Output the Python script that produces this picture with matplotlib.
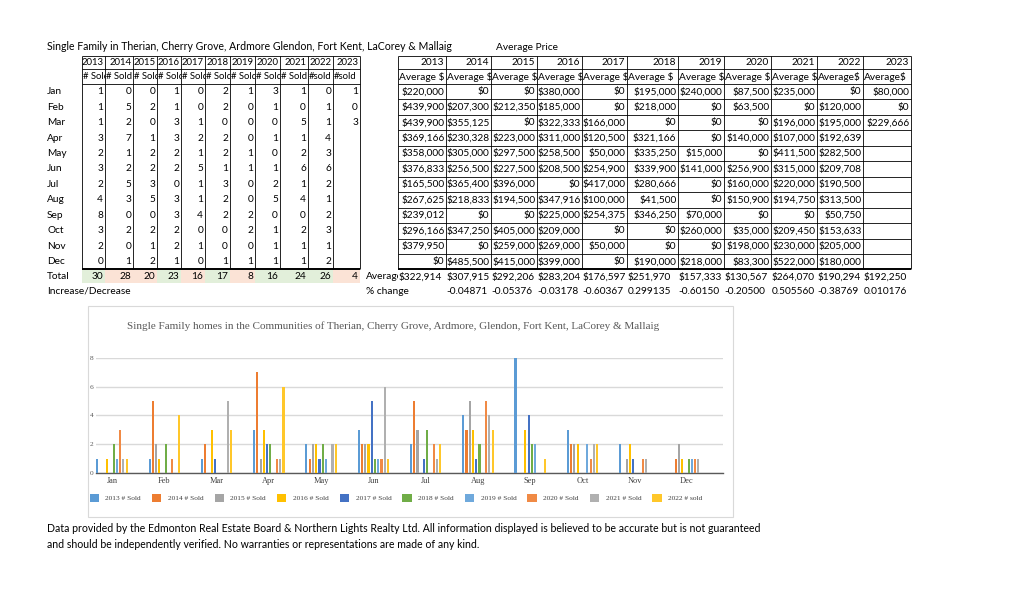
import matplotlib
matplotlib.use("Agg")
import matplotlib.pyplot as plt
from matplotlib.patches import Rectangle
import numpy as np

W, H = 1016, 602

months = ['Jan', 'Feb', 'Mar', 'Apr', 'May', 'Jun', 'Jul', 'Aug', 'Sep', 'Oct', 'Nov', 'Dec']
years = ['2013', '2014', '2015', '2016', '2017', '2018', '2019', '2020', '2021', '2022', '2023']
sold_heads = ['# Sold'] * 9 + ['#sold', '#sold']
price_heads = ['Average $'] * 9 + ['Average$', 'Average$']

# units sold, one row per month, 2013..2023
sold = [
    [1, 0, 0, 1, 0, 2, 1, 3, 1, 0, 1],
    [1, 5, 2, 1, 0, 2, 0, 1, 0, 1, 0],
    [1, 2, 0, 3, 1, 0, 0, 0, 5, 1, 3],
    [3, 7, 1, 3, 2, 2, 0, 1, 1, 4, None],
    [2, 1, 2, 2, 1, 2, 1, 0, 2, 3, None],
    [3, 2, 2, 2, 5, 1, 1, 1, 6, 6, None],
    [2, 5, 3, 0, 1, 3, 0, 2, 1, 2, None],
    [4, 3, 5, 3, 1, 2, 0, 5, 4, 1, None],
    [8, 0, 0, 3, 4, 2, 2, 0, 0, 2, None],
    [3, 2, 2, 2, 0, 0, 2, 1, 2, 3, None],
    [2, 0, 1, 2, 1, 0, 0, 1, 1, 1, None],
    [0, 1, 2, 1, 0, 1, 1, 1, 1, 2, None],
]
totals = [30, 28, 20, 23, 16, 17, 8, 16, 24, 26, 4]
total_up = [True, False, False, True, False, True, False, True, True, True, False]

# average price, one row per month, 2013..2023
prices = [
    ['$220,000', '$0', '$0', '$380,000', '$0', '$195,000', '$240,000', '$87,500', '$235,000', '$0', '$80,000'],
    ['$439,900', '$207,300', '$212,350', '$185,000', '$0', '$218,000', '$0', '$63,500', '$0', '$120,000', '$0'],
    ['$439,900', '$355,125', '$0', '$322,333', '$166,000', '$0', '$0', '$0', '$196,000', '$195,000', '$229,666'],
    ['$369,166', '$230,328', '$223,000', '$311,000', '$120,500', '$321,166', '$0', '$140,000', '$107,000', '$192,639', ''],
    ['$358,000', '$305,000', '$297,500', '$258,500', '$50,000', '$335,250', '$15,000', '$0', '$411,500', '$282,500', ''],
    ['$376,833', '$256,500', '$227,500', '$208,500', '$254,900', '$339,900', '$141,000', '$256,900', '$315,000', '$209,708', ''],
    ['$165,500', '$365,400', '$396,000', '$0', '$417,000', '$280,666', '$0', '$160,000', '$220,000', '$190,500', ''],
    ['$267,625', '$218,833', '$194,500', '$347,916', '$100,000', '$41,500', '$0', '$150,900', '$194,750', '$313,500', ''],
    ['$239,012', '$0', '$0', '$225,000', '$254,375', '$346,250', '$70,000', '$0', '$0', '$50,750', ''],
    ['$296,166', '$347,250', '$405,000', '$209,000', '$0', '$0', '$260,000', '$35,000', '$209,450', '$153,633', ''],
    ['$379,950', '$0', '$259,000', '$269,000', '$50,000', '$0', '$0', '$198,000', '$230,000', '$205,000', ''],
    ['$0', '$485,500', '$415,000', '$399,000', '$0', '$190,000', '$218,000', '$83,300', '$522,000', '$180,000', ''],
]
avg_price = ['$322,914', '$307,915', '$292,206', '$283,204', '$176,597', '$251,970',
             '$157,333', '$130,567', '$264,070', '$190,294', '$192,250']
pct_change = ['', '-0.04871', '-0.05376', '-0.03178', '-0.60367', '0.299135',
              '-0.60150', '-0.20500', '0.505560', '-0.38769', '0.010176']

# series shown in the chart (2013..2022)
chart_labels = ['2013 # Sold', '2014 # Sold', '2015 # Sold', '2016 # Sold', '2017 # Sold',
                '2018 # Sold', '2019 # Sold', '2020 # Sold', '2021 # Sold', '2022 # sold']
chart_sold = [
    [1, 1, 1, 3, 2, 3, 2, 4, 8, 3, 2, 0],
    [0, 5, 2, 7, 1, 2, 5, 3, 0, 2, 0, 1],
    [0, 2, 0, 1, 2, 2, 3, 5, 0, 2, 1, 2],
    [1, 1, 3, 3, 2, 2, 0, 3, 3, 2, 2, 1],
    [0, 0, 1, 2, 1, 5, 1, 1, 4, 0, 1, 0],
    [2, 2, 0, 2, 2, 1, 3, 2, 2, 0, 0, 1],
    [1, 0, 0, 0, 1, 1, 0, 0, 2, 2, 0, 1],
    [3, 1, 0, 1, 0, 1, 2, 5, 0, 1, 1, 1],
    [1, 0, 5, 1, 2, 6, 1, 4, 0, 2, 1, 1],
    [1, 4, 3, 6, 2, 1, 2, 3, 1, 2, 0, 0],
]
chart_colors = ['#5B9BD5', '#ED7D31', '#A5A5A5', '#FFC000', '#4472C4',
                '#70AD47', '#6FA9DC', '#F08A45', '#B0B0B0', '#FFC72A']

TF = 'Lato'
SF = 'Liberation Serif'

fig = plt.figure(figsize=(W / 100, H / 100), dpi=100)
bg = fig.add_axes([0, 0, 1, 1])
bg.set_xlim(0, W)
bg.set_ylim(H, 0)
bg.axis('off')


def cell_text(x0, x1, y0, y1, s, ha='right', pad=2, size=7.3, **kw):
    x = x1 - pad if ha == 'right' else x0 + pad
    t = bg.text(x, (y0 + y1) / 2, s, ha=ha, va='center', fontsize=size,
                family=TF, clip_on=True, **kw)
    t.set_clip_path(Rectangle((x0, y0), x1 - x0, y1 - y0, transform=bg.transData))
    return t


# column borders of the two tables (pixels)
L = [82, 105, 133, 157, 181, 205, 230, 255, 280, 308, 333, 360]
R = [398, 446, 491, 537, 582, 627, 678, 724, 771, 817, 863, 911]
top, h1, h2 = 56, 69, 84
rh = 15.45
rows_y = [h2 + i * rh for i in range(13)]
bottom = rows_y[-1]

bg.text(47, 47, 'Single Family in Therian, Cherry Grove, Ardmore Glendon, Fort Kent, LaCorey & Mallaig',
        fontsize=7.6, family=TF, va='center')
bg.text(496, 47, 'Average Price', fontsize=7.3, family=TF, va='center')

# left table: units sold
for i in range(11):
    cell_text(L[i], L[i + 1], top, h1, years[i], pad=1, size=6.9)
    cell_text(L[i], L[i + 1], h1, h2, sold_heads[i], ha='left', pad=1, size=6.8)
for r, m in enumerate(months):
    bg.text(47, (rows_y[r] + rows_y[r + 1]) / 2, m, fontsize=7.3, family=TF, va='center')
    for i in range(11):
        v = sold[r][i]
        if v is not None:
            cell_text(L[i], L[i + 1], rows_y[r], rows_y[r + 1], str(v))
bg.vlines(L, top, bottom, color='k', lw=0.6)
bg.hlines([top, h1, h2], L[0], L[-1], color='k', lw=0.6)
bg.hlines(bottom, L[0], L[-1], color='k', lw=1.4)

# totals row
ty0, ty1 = bottom + 0.5, bottom + 14
for i in range(11):
    bg.add_patch(Rectangle((L[i], ty0), L[i + 1] - L[i], ty1 - ty0, lw=0,
                           color='#E2EFDA' if total_up[i] else '#FBE3D6'))
    cell_text(L[i], L[i + 1], ty0, ty1, str(totals[i]))
bg.text(47, (ty0 + ty1) / 2, 'Total', fontsize=7.3, family=TF, va='center')
bg.text(47, ty1 + 8, 'Increase/Decrease', fontsize=7.3, family=TF, va='center')

# right table: average price
for i in range(11):
    cell_text(R[i], R[i + 1], top, h1, years[i])
    cell_text(R[i], R[i + 1], h1, h2, price_heads[i], ha='left', pad=1)
    for r in range(12):
        cell_text(R[i], R[i + 1], rows_y[r], rows_y[r + 1], prices[r][i], pad=1.5)
bg.vlines(R, top, bottom, color='k', lw=0.6)
bg.hlines(rows_y[:-1] + [top, h1], R[0], R[-1], color='k', lw=0.6)
bg.hlines(bottom, R[0], R[-1], color='k', lw=1.4)

cell_text(366, R[0], ty0, ty1, 'Average', ha='left', pad=0)
bg.text(366, ty1 + 8, '% change', fontsize=7.3, family=TF, va='center')
for i in range(11):
    cell_text(R[i], R[i + 1], ty0, ty1, avg_price[i], ha='left', pad=0.5)
    cell_text(R[i], R[i + 1], ty1 + 1, ty1 + 15, pct_change[i], ha='left', pad=0.5)

# chart frame and title
bg.add_patch(Rectangle((88, 306), 645, 211, fill=False, ec='#D9D9D9', lw=0.8))
bg.text(393, 326, 'Single Family homes in the Communities of Therian, Cherry Grove, Ardmore, '
        'Glendon, Fort Kent, LaCorey & Mallaig', fontsize=8.0, family=SF,
        color='#595959', ha='center', va='center')

# bar chart
ax_l, ax_r, ax_t, ax_b = 96, 723, 357.7, 473
ax = fig.add_axes([ax_l / W, 1 - ax_b / H, (ax_r - ax_l) / W, (ax_b - ax_t) / H])
ax.set_facecolor('none')
x = np.arange(12)
step = 3.27 / 52.27
bars = []
for k, vals in enumerate(chart_sold):
    b = ax.bar(x + (k - 4.5) * step, vals, width=0.04, color=chart_colors[k],
               label=chart_labels[k], zorder=3)
    bars.append(b)
ax.set_ylim(0, 8)
ax.set_xlim(-(112 - ax_l) / 52.27, 11 + (ax_r - 687) / 52.27)
ax.set_yticks([0, 2, 4, 6, 8])
ax.set_xticks(x)
ax.set_xticklabels(months)
ax.grid(axis='y', color='#D9D9D9', lw=1)
ax.set_axisbelow(True)
for s in ['top', 'right', 'left']:
    ax.spines[s].set_visible(False)
ax.spines['bottom'].set_color('#595959')
ax.spines['bottom'].set_linewidth(1)
ax.tick_params(length=0)
ax.tick_params(axis='x', pad=3)
ax.tick_params(axis='y', pad=2)
for t in ax.get_xticklabels():
    t.set_fontfamily(SF)
    t.set_fontsize(6)
    t.set_color('#404040')
for t in ax.get_yticklabels():
    t.set_fontfamily(SF)
    t.set_fontsize(5.3)
    t.set_color('#595959')

fig.legend(handles=bars, labels=chart_labels, ncol=10, loc='center',
           bbox_to_anchor=(396 / W, 1 - 498 / H), frameon=False,
           prop={'family': SF, 'size': 5.3}, handlelength=1.25, handleheight=1.25,
           handletextpad=0.9, columnspacing=1.5, labelcolor='#404040')

bg.text(47, 528, 'Data provided by the Edmonton Real Estate Board & Northern Lights Realty Ltd. '
        'All information displayed is believed to be accurate but is not guaranteed',
        fontsize=7.6, family=TF, va='center')
bg.text(47, 545, 'and should be independently verified. No warranties or representations '
        'are made of any kind.', fontsize=7.6, family=TF, va='center')

fig.savefig('out.png', dpi=100)
